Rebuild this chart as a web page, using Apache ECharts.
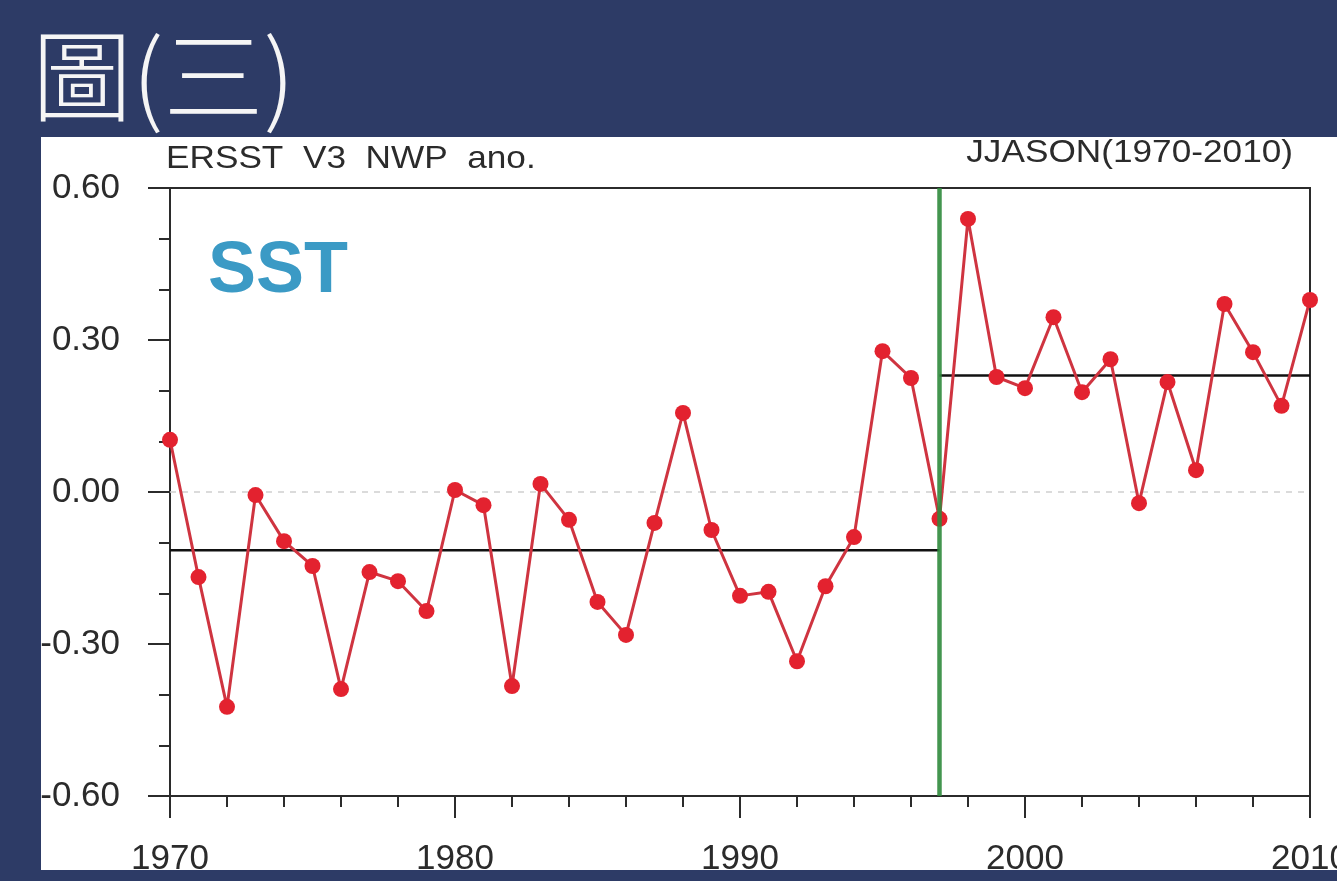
<!DOCTYPE html>
<html>
<head>
<meta charset="utf-8">
<title>圖(三) ERSST V3 NWP ano.</title>
<script src="https://cdn.jsdelivr.net/npm/echarts@6/dist/echarts.min.js"></script>
<style>
  html, body { margin: 0; padding: 0; background: #2d3b66; }
  #chart { width: 1337px; height: 881px; }
</style>
</head>
<body>
<div id="chart"></div>
<script>
// JJASON sea-surface-temperature anomaly over the NW Pacific (ERSST v3)
const years = [
  1970, 1971, 1972, 1973, 1974, 1975, 1976, 1977, 1978, 1979,
  1980, 1981, 1982, 1983, 1984, 1985, 1986, 1987, 1988, 1989,
  1990, 1991, 1992, 1993, 1994, 1995, 1996, 1997, 1998, 1999,
  2000, 2001, 2002, 2003, 2004, 2005, 2006, 2007, 2008, 2009, 2010
];
const sstAnomaly = [
   0.103, -0.168, -0.424, -0.006, -0.097, -0.146, -0.389, -0.158, -0.176, -0.235,
   0.004, -0.026, -0.383,  0.016, -0.055, -0.217, -0.282, -0.061,  0.156, -0.075,
  -0.205, -0.197, -0.334, -0.186, -0.089,  0.278,  0.225, -0.053,  0.539,  0.227,
   0.205,  0.345,  0.197,  0.262, -0.022,  0.217,  0.043,  0.371,  0.276,  0.170,
   0.379
];

// regime shift year and the mean level of each regime
const shiftYear = 1997;
const meanBefore = -0.115;
const meanAfter = 0.23;

// axis ranges and tick labels
const xRange = [1970, 2010];
const xTickLabels = [1970, 1980, 1990, 2000, 2010];
const yRange = [-0.6, 0.6];
const yTickLabels = ['-0.60', '-0.30', '0.00', '0.30', '0.60'];

const NAVY = '#2d3b66';
const INK = '#2b2b2b';
const LABEL_FONT = 'Liberation Sans, Arial, Helvetica, sans-serif';

const chart = echarts.init(document.getElementById('chart'), null, { renderer: 'canvas' });

const axisCommon = {
  axisLine: { show: true, onZero: false, lineStyle: { color: INK, width: 2 } },
  axisTick: { show: true, inside: false, length: 22, lineStyle: { color: INK, width: 2 } },
  minorTick: { show: true, length: 11, lineStyle: { color: INK, width: 2 } },
  splitLine: { show: false },
  axisLabel: { color: INK, fontFamily: LABEL_FONT, fontSize: 35 }
};

chart.setOption({
  backgroundColor: '#ffffff',
  animation: false,
  grid: {
    left: 170, right: 27, top: 188, bottom: 85,
    containLabel: false,
    outerBoundsMode: 'none',
    show: true, borderColor: INK, borderWidth: 2, backgroundColor: '#ffffff'
  },
  xAxis: Object.assign({}, axisCommon, {
    type: 'value',
    min: xRange[0], max: xRange[1], interval: 10,
    minorTick: Object.assign({}, axisCommon.minorTick, { splitNumber: 5 }),
    axisLabel: Object.assign({}, axisCommon.axisLabel, {
      margin: 46, showMinLabel: true, showMaxLabel: true, hideOverlap: false,
      formatter: v => (xTickLabels.indexOf(v) >= 0 ? String(v) : '')
    })
  }),
  yAxis: Object.assign({}, axisCommon, {
    type: 'value',
    min: yRange[0], max: yRange[1], interval: 0.3,
    minorTick: Object.assign({}, axisCommon.minorTick, { splitNumber: 3 }),
    axisLabel: Object.assign({}, axisCommon.axisLabel, {
      margin: 50,
      formatter: v => {
        const s = v.toFixed(2);
        return yTickLabels.indexOf(s) >= 0 ? s : (Math.abs(v) < 1e-9 ? '0.00' : s);
      }
    })
  }),
  series: [
    {
      // zero reference line
      type: 'line',
      data: [[xRange[0], 0], [xRange[1], 0]],
      symbol: 'none',
      silent: true,
      lineStyle: { color: '#d0d0d0', width: 1.5, type: [6, 6] },
      z: 1
    },
    {
      type: 'line',
      name: 'mean before',
      data: [[xRange[0], meanBefore], [shiftYear, meanBefore]],
      symbol: 'none',
      silent: true,
      lineStyle: { color: '#111111', width: 2.5 },
      z: 2
    },
    {
      type: 'line',
      name: 'mean after',
      data: [[shiftYear, meanAfter], [xRange[1], meanAfter]],
      symbol: 'none',
      silent: true,
      lineStyle: { color: '#111111', width: 2.5 },
      z: 2
    },
    {
      type: 'line',
      name: 'SST',
      data: years.map((y, i) => [y, sstAnomaly[i]]),
      symbol: 'circle',
      symbolSize: 16,
      showAllSymbol: true,
      clip: false,
      lineStyle: { color: '#cf3440', width: 3 },
      itemStyle: { color: '#e3222f', borderWidth: 0 },
      z: 3
    },
    {
      // regime shift marker
      type: 'line',
      name: 'shift',
      data: [[shiftYear, yRange[0]], [shiftYear, yRange[1]]],
      symbol: 'none',
      silent: true,
      lineStyle: { color: '#2f8a3c', width: 4.5, opacity: 0.9 },
      z: 4
    }
  ],
  graphic: [
    // navy frame around the white panel
    { type: 'rect', z: 100, shape: { x: 0, y: 0, width: 1337, height: 137 }, style: { fill: NAVY } },
    { type: 'rect', z: 100, shape: { x: 0, y: 0, width: 41, height: 881 }, style: { fill: NAVY } },
    { type: 'rect', z: 100, shape: { x: 0, y: 870, width: 1337, height: 11 }, style: { fill: NAVY } },
    {
      type: 'text', z: 101, x: 32, y: 76,
      style: {
        text: '圖(三)', fill: '#f5f5f5',
        font: '300 100px "Noto Sans CJK TC", "Noto Sans CJK SC", sans-serif',
        verticalAlign: 'middle', align: 'left'
      }
    },
    {
      type: 'text', z: 101, x: 166, y: 159, scaleX: 1.1,
      style: {
        text: 'ERSST  V3  NWP  ano.', fill: INK,
        font: '32px ' + LABEL_FONT, verticalAlign: 'middle', align: 'left'
      }
    },
    {
      type: 'text', z: 101, x: 1293, y: 153, scaleX: 1.1,
      style: {
        text: 'JJASON(1970-2010)', fill: INK,
        font: '32px ' + LABEL_FONT, verticalAlign: 'middle', align: 'right'
      }
    },
    {
      type: 'text', z: 101, x: 208, y: 272,
      style: {
        text: 'SST', fill: '#3b9ac5',
        font: 'bold 72px ' + LABEL_FONT, verticalAlign: 'middle', align: 'left'
      }
    }
  ]
});
</script>
</body>
</html>
